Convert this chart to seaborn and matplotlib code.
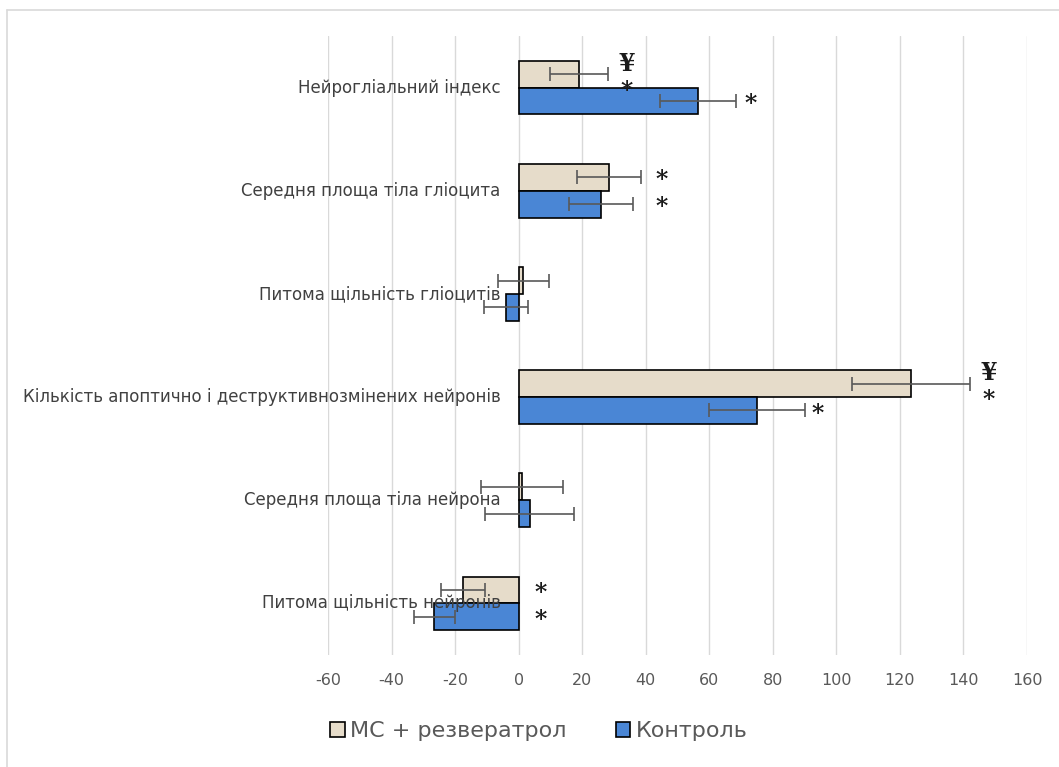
import matplotlib
matplotlib.use("Agg")
import matplotlib.pyplot as plt
import numpy as np
import pandas as pd
import seaborn as sns

categories = [
    "Нейрогліальний індекс",
    "Середня площа тіла гліоцита",
    "Питома щільність гліоцитів",
    "Кількість апоптично і деструктивнозмінених нейронів",
    "Середня площа тіла нейрона",
    "Питома щільність нейронів",
]
series = ["МС + резвератрол", "Контроль"]

res_values = [19, 28.5, 1.5, 123.5, 1, -17.5]
res_errors = [9, 10, 8, 18.5, 13, 7]
ctrl_values = [56.5, 26, -4, 75, 3.5, -26.5]
ctrl_errors = [12, 10, 7, 15, 14, 6.5]

# significance marks: (category index, series index, text, x position)
marks = [
    (0, 0, "¥\n*", 34),
    (0, 1, "*", 73),
    (1, 0, "*", 45),
    (1, 1, "*", 45),
    (3, 0, "¥\n*", 148),
    (3, 1, "*", 94),
    (5, 0, "*", 7),
    (5, 1, "*", 7),
]

colors = {"МС + резвератрол": "#E6DCCA", "Контроль": "#4A86D5"}

df = pd.DataFrame({
    "category": categories * 2,
    "series": [series[0]] * 6 + [series[1]] * 6,
    "value": res_values + ctrl_values,
})

sns.set_style("white")
plt.rcParams["font.family"] = ["DejaVu Sans"]
plt.rcParams["axes.unicode_minus"] = False

fig = plt.figure(figsize=(10.59, 7.67), dpi=100)
ax = fig.add_axes([328 / 1059, 1 - 655 / 767, (1027 - 328) / 1059, (655 - 36) / 767])

sns.barplot(
    data=df, y="category", x="value", hue="series",
    order=categories, hue_order=series, palette=colors, saturation=1,
    width=0.52, edgecolor="black", linewidth=1.2, ax=ax, legend=True,
    zorder=3,
)

# error bars and bar centres from the drawn bars
centres = {}
bar_containers = list(ax.containers)
for s_idx, cont in enumerate(bar_containers):
    errs = res_errors if s_idx == 0 else ctrl_errors
    vals = res_values if s_idx == 0 else ctrl_values
    ys = []
    for i, patch in enumerate(cont.patches):
        yc = patch.get_y() + patch.get_height() / 2
        ys.append(yc)
        centres[(i, s_idx)] = yc
    ax.errorbar(vals, ys, xerr=errs, fmt="none", ecolor="#595959",
                elinewidth=1.2, capsize=5, capthick=1.2, zorder=4)

for cat_i, s_idx, txt, xpos in marks:
    ax.text(xpos, centres[(cat_i, s_idx)] + 0.03, txt, ha="center", va="center",
            fontsize=17, fontweight="bold", family="DejaVu Serif",
            color="#1a1a1a", linespacing=1.15, zorder=5)

ax.set_xlim(-60, 160)
ax.set_ylim(5.5, -0.5)
ax.set_xticks(np.arange(-60, 161, 20))
ax.xaxis.grid(True, color="#D9D9D9", linewidth=1.0)
ax.set_axisbelow(True)
for sp in ax.spines.values():
    sp.set_visible(False)
ax.tick_params(axis="x", length=0, pad=13, labelsize=11.5, labelcolor="#595959")
ax.set_yticks([])
ax.set_xlabel("")
ax.set_ylabel("")

for i, cat in enumerate(categories):
    ax.annotate(cat, xy=(0, i), xytext=(-13, 0), textcoords="offset points",
                ha="right", va="center", fontsize=12, color="#404040",
                annotation_clip=False)

leg = ax.legend(loc="center", bbox_to_anchor=(539 / 1059, 1 - 731 / 767),
                bbox_transform=fig.transFigure, ncol=2, frameon=False,
                fontsize=16, handlelength=0.65, handleheight=0.65,
                handletextpad=0.25, columnspacing=2.2)
for t in leg.get_texts():
    t.set_color("#595959")

# chart border (top and left edges visible)
fig.add_artist(plt.Line2D([7 / 1059, 1.01], [1 - 10 / 767] * 2, color="#D9D9D9",
                          linewidth=1.2, transform=fig.transFigure))
fig.add_artist(plt.Line2D([7 / 1059] * 2, [-0.01, 1 - 10 / 767], color="#D9D9D9",
                          linewidth=1.2, transform=fig.transFigure))

fig.savefig("out.png", dpi=100)
